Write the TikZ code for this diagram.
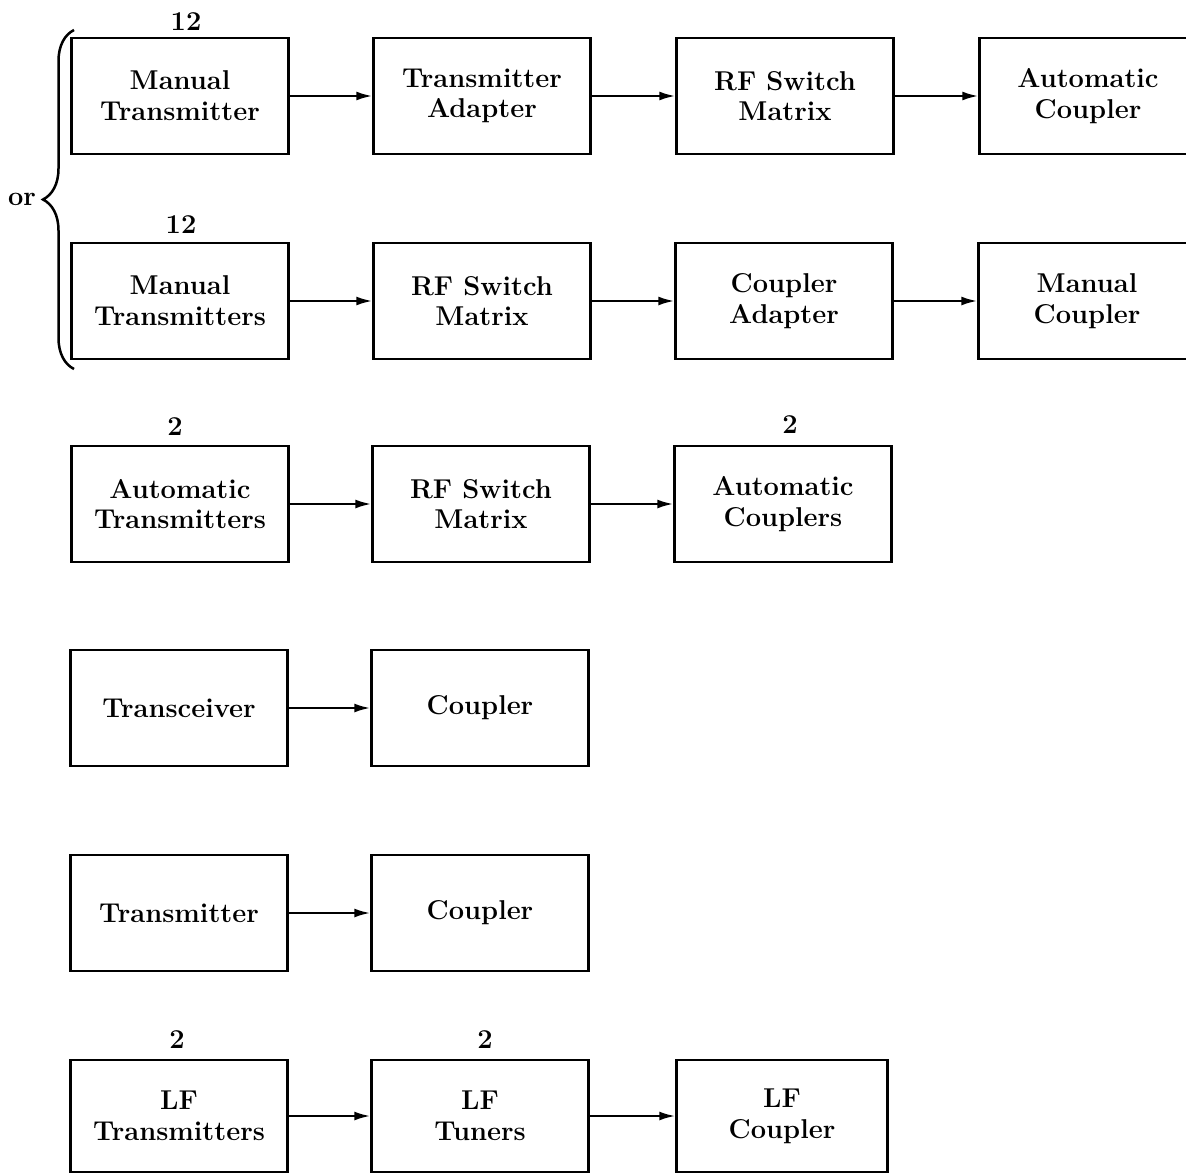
\documentclass[tikz,border=0pt]{standalone}
\usepackage{tikz}
\usetikzlibrary{positioning, arrows.meta, decorations.pathreplacing}

\begin{document}
\begin{tikzpicture}[x=0.02cm, y=-0.02cm,
        block/.style={
                draw,
                line width=0.5mm,
                minimum width=4.34cm,
                minimum height=2.32cm,
                inner sep=0pt,
                align=center,
                font=\fontsize{15.5}{17.5}\selectfont\bfseries,
        },
        count/.style={font=\fontsize{15.5}{17.5}\selectfont\bfseries},
        link/.style={line width=0.45mm, -{Latex[length=3.2mm, width=1.8mm]}}]
            \useasboundingbox (0,0) rectangle (1186,1173);
            \clip (0,0) rectangle (1186,1173);
            % first choice
            \node[block] (mt1) at (180,96) {Manual\\Transmitter};
            \node[block] (ta) at (482,96) {Transmitter\\Adapter};
            \node[block] (rf1) at (785,96) {RF Switch\\Matrix};
            \node[block] (ac1) at (1088,96) {Automatic\\Coupler};
            \node[count] (n1) at (186,22) {12};
            % second choice
            \node[block] (mt2) at (180,301) {Manual\\Transmitters};
            \node[block] (rf2) at (482,301) {RF Switch\\Matrix};
            \node[block] (ca) at (784,301) {Coupler\\Adapter};
            \node[block] (mc) at (1087,301) {Manual\\Coupler};
            \node[count] (n2) at (181,225) {12};
            \coordinate (btop) at (74,30);
            \coordinate (bbot) at (74,369);
            \draw[line width=0.5mm, decorate, decoration={brace, amplitude=0.62cm}] (bbot) -- (btop);
            \node[count] (or) at (22,199) {or};
            % automatic
            \node[block] (at3) at (180,504) {Automatic\\Transmitters};
            \node[block] (rf3) at (481,504) {RF Switch\\Matrix};
            \node[block] (ac3) at (783,504) {Automatic\\Couplers};
            \node[count] (n3) at (175,427) {2};
            \node[count] (n4) at (790,425) {2};
            % transceiver
            \node[block] (tr) at (179,708) {Transceiver};
            \node[block] (cp4) at (480,708) {Coupler};
            % transmitter
            \node[block] (tx) at (179,913) {Transmitter};
            \node[block] (cp5) at (480,913) {Coupler};
            % LF
            \node[block, minimum height=2.24cm] (lf) at (179,1116) {LF\\Transmitters};
            \node[block, minimum height=2.24cm] (lft) at (480,1116) {LF\\Tuners};
            \node[block, minimum height=2.24cm, minimum width=4.22cm] (lfc) at (782,1116) {LF\\Coupler};
            \node[count] (n5) at (177,1040) {2};
            \node[count] (n6) at (485,1040) {2};
            % arrows
            \draw[link] (mt1) -- (ta);
            \draw[link] (ta) -- (rf1);
            \draw[link] (rf1) -- (ac1);
            \draw[link] (mt2) -- (rf2);
            \draw[link] (rf2) -- (ca);
            \draw[link] (ca) -- (mc);
            \draw[link] (at3) -- (rf3);
            \draw[link] (rf3) -- (ac3);
            \draw[link] (tr) -- (cp4);
            \draw[link] (tx) -- (cp5);
            \draw[link] (lf) -- (lft);
            \draw[link] (lft) -- (lfc);
        \end{tikzpicture}
\end{document}
